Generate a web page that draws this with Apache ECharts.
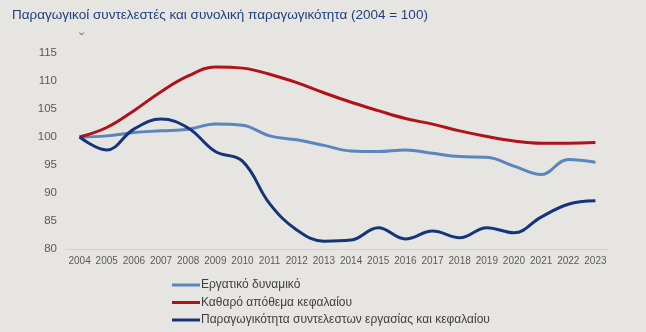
<!DOCTYPE html>
<html><head><meta charset="utf-8">
<script src="https://cdn.jsdelivr.net/npm/echarts@6/dist/echarts.min.js"></script>
<style>html,body{margin:0;padding:0;background:#e6e5e1}#c{width:646px;height:332px}</style>
</head><body><div id="c"></div>
<script>
const years = ['2004','2005','2006','2007','2008','2009','2010','2011','2012','2013','2014','2015','2016','2017','2018','2019','2020','2021','2022','2023'];
const labourForce = [100,100.2,100.8,101.1,101.4,102.3,102.1,100.2,99.5,98.5,97.5,97.4,97.7,97.1,96.5,96.4,94.8,93.3,96.0,95.5];
const capitalStock = [100,101.7,104.7,108.1,110.9,112.5,112.3,111.2,109.7,107.9,106.2,104.7,103.3,102.3,101.1,100.1,99.3,98.9,98.9,99.0];
const tfp = [100,97.7,101.4,103.2,101.6,97.4,95.7,88.1,83.4,81.4,81.6,83.8,81.8,83.2,82.0,83.8,82.9,85.7,88.0,88.6];
const names = ['Εργατικό δυναμικό','Καθαρό απόθεμα κεφαλαίου','Παραγωγικότητα συντελεστων εργασίας και κεφαλαίου'];
const yTicks = [80,85,90,95,100,105,110,115];
const colors = ['#5a85bd','#b01218','#15357a'];

const chart = echarts.init(document.getElementById('c'), null, {renderer:'canvas'});
const font = 'Liberation Sans, Arial, sans-serif';
chart.setOption({
  backgroundColor:'#e6e5e1',
  animation:false,
  title:{text:'Παραγωγικοί συντελεστές και συνολική παραγωγικότητα (2004 = 100)',left:12,top:8,padding:0,
    textStyle:{fontFamily:font,fontSize:13.5,fontWeight:'normal',color:'#1f3f7f'}},
  graphic:[{type:'text',left:79,top:33,style:{text:'ˇ',fill:'#808080',font:'16px '+font}}],
  grid:{left:66,right:37,top:53,bottom:83,containLabel:false},
  legend:{orient:'vertical',left:172,top:278,padding:0,height:60,itemWidth:28,itemHeight:3,itemGap:3.5,icon:'rect',
    textStyle:{fontFamily:font,fontSize:12,color:'#404040',padding:[0,0,0,-4],lineHeight:14},
    data:names},
  xAxis:{type:'category',data:years,boundaryGap:true,
    axisLine:{lineStyle:{color:'#d4d3cf',width:1}},axisTick:{show:false},
    axisLabel:{color:'#595959',fontFamily:font,fontSize:10,margin:7,interval:0}},
  yAxis:{type:'value',min:80,max:115,interval:5,
    axisLine:{show:false},axisTick:{show:false},splitLine:{show:false},
    axisLabel:{color:'#595959',fontFamily:font,fontSize:11.5,margin:9,
      formatter:v=>yTicks.includes(v)?String(v):''}},
  series:[
    {name:names[0],type:'line',data:labourForce,smooth:0.4,symbol:'none',lineStyle:{width:3,color:colors[0]},itemStyle:{color:colors[0]}},
    {name:names[1],type:'line',data:capitalStock,smooth:0.4,symbol:'none',lineStyle:{width:3,color:colors[1]},itemStyle:{color:colors[1]}},
    {name:names[2],type:'line',data:tfp,smooth:0.4,symbol:'none',lineStyle:{width:3,color:colors[2]},itemStyle:{color:colors[2]}}
  ]
});
</script></body></html>
